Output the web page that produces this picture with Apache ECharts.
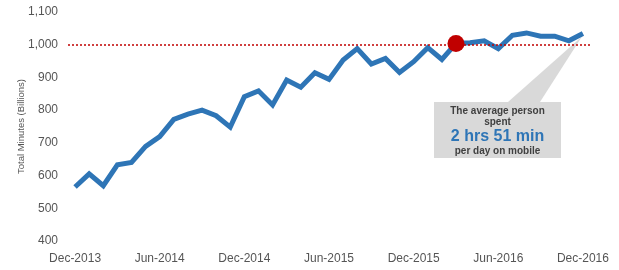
<!DOCTYPE html>
<html><head><meta charset="utf-8">
<script src="https://cdn.jsdelivr.net/npm/echarts@6/dist/echarts.min.js"></script>
<style>html,body{margin:0;padding:0;background:#fff}#c{width:619px;height:270px}</style>
</head><body><div id="c"></div>
<script>
const months = ['Dec-2013','Jan-2014','Feb-2014','Mar-2014','Apr-2014','May-2014','Jun-2014','Jul-2014','Aug-2014','Sep-2014','Oct-2014','Nov-2014',
'Dec-2014','Jan-2015','Feb-2015','Mar-2015','Apr-2015','May-2015','Jun-2015','Jul-2015','Aug-2015','Sep-2015','Oct-2015','Nov-2015',
'Dec-2015','Jan-2016','Feb-2016','Mar-2016','Apr-2016','May-2016','Jun-2016','Jul-2016','Aug-2016','Sep-2016','Oct-2016','Nov-2016','Dec-2016'];
const minutes = [565,605,569,633,640,689,719,772,788,800,783,748,
841,859,816,892,870,914,894,953,988,941,958,915,
948,991,955,1004,1006,1012,988,1029,1036,1026,1026,1012,1034];
const highlightIndex = 27;
const referenceLevel = 1000;
const calloutLines = ['The average person','spent','2 hrs 51 min','per day on mobile'];

const FONT = 'Arial, "Liberation Sans", sans-serif';
const chart = echarts.init(document.getElementById('c'));
const option = {
  animation:false,
  backgroundColor:'#ffffff',
  grid:{left:68,right:29,top:12,bottom:29},
  xAxis:{type:'category',data:months,boundaryGap:true,
    axisLine:{show:false},axisTick:{show:false},
    axisLabel:{interval:5,color:'#555',fontSize:12,fontFamily:FONT,margin:12}},
  yAxis:{type:'value',min:400,max:1100,interval:100,
    name:'Total Minutes (Billions)',nameLocation:'middle',nameGap:42,nameRotate:90,nameMoveOverlap:false,
    nameTextStyle:{color:'#555',fontSize:9.5,fontFamily:FONT},
    splitLine:{show:false},axisLine:{show:false},axisTick:{show:false},
    axisLabel:{color:'#555',fontSize:12,fontFamily:FONT,margin:10,
      formatter:v=>v.toLocaleString('en-US')}},
  series:[{
    type:'line',data:minutes,symbol:'none',z:3,
    lineStyle:{color:'#2e75b6',width:5,join:'miter'},
    markLine:{silent:true,symbol:'none',label:{show:false},
      lineStyle:{color:'#c00000',type:[2,2],width:1.5},
      data:[{yAxis:referenceLevel}]},
    markPoint:{silent:true,symbol:'circle',symbolSize:17,
      itemStyle:{color:'#c00000'},label:{show:false},
      data:[{coord:[highlightIndex,minutes[highlightIndex]]}]}
  }]
};
chart.setOption(option);
const tip = chart.convertToPixel({seriesIndex:0},[minutes.length-1,minutes[minutes.length-1]]);
const bx=434, by=102, bw=127, bh=56;
chart.setOption({graphic:[
  {type:'polygon',z:1,shape:{points:[[508,by],[540,by],[tip[0]-1,tip[1]+3]]},style:{fill:'#d9d9d9'}},
  {type:'rect',z:1,shape:{x:bx,y:by,width:bw,height:bh},style:{fill:'#d9d9d9'}},
  {type:'text',z:2,x:bx+bw/2,y:by+9,style:{text:calloutLines[0],align:'center',verticalAlign:'middle',font:'bold 10px '+FONT,fill:'#404040'}},
  {type:'text',z:2,x:bx+bw/2,y:by+20,style:{text:calloutLines[1],align:'center',verticalAlign:'middle',font:'bold 10px '+FONT,fill:'#404040'}},
  {type:'text',z:2,x:bx+bw/2,y:by+35,style:{text:calloutLines[2],align:'center',verticalAlign:'middle',font:'bold 16px '+FONT,fill:'#2e75b6'}},
  {type:'text',z:2,x:bx+bw/2,y:by+49,style:{text:calloutLines[3],align:'center',verticalAlign:'middle',font:'bold 10px '+FONT,fill:'#404040'}}
]});
</script></body></html>
